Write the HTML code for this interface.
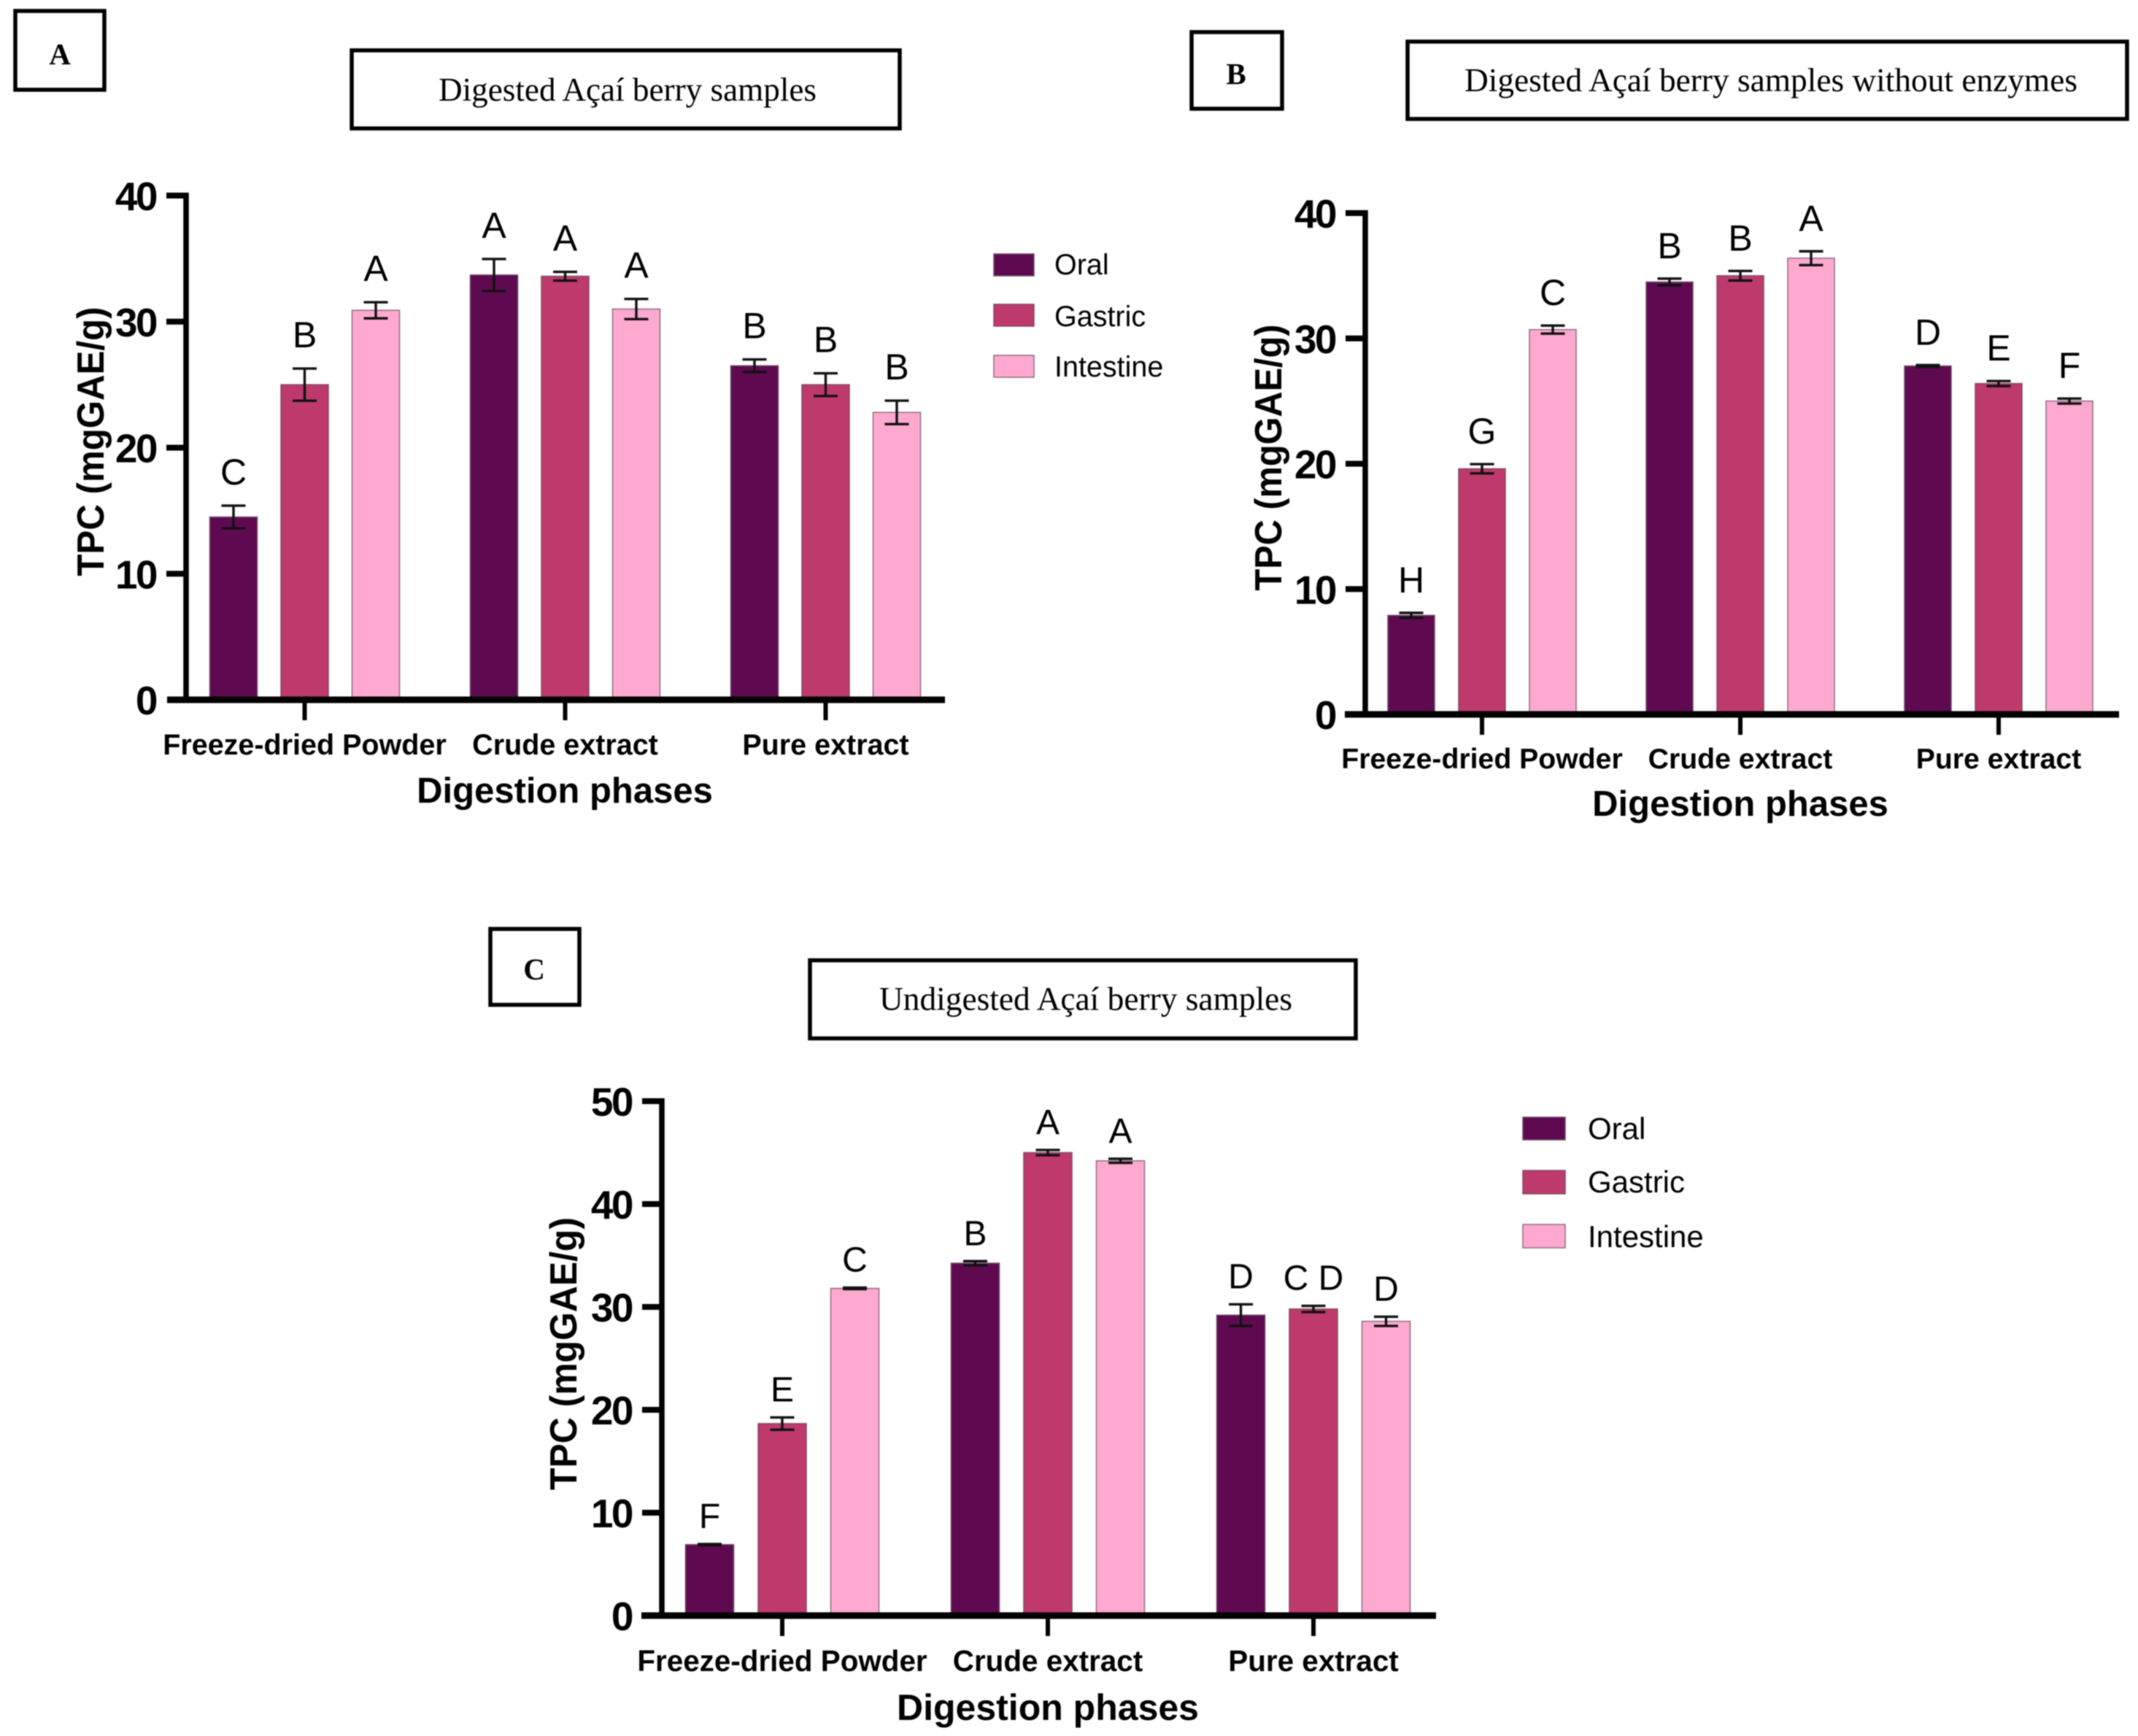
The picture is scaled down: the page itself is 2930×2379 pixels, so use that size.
<!DOCTYPE html>
<html lang="en">
<head>
<meta charset="utf-8">
<title>Açaí berry TPC charts</title>
<style>
html,body{margin:0;padding:0;background:#fff;}
svg{display:block;filter:blur(0.8px);}
text{fill:#000;}
.sans{font-family:"Liberation Sans",sans-serif;}
.serif{font-family:"Liberation Serif",serif;}
.bold{font-weight:700;}
.frame{fill:#fff;stroke:#000;stroke-width:5.5;}
</style>
</head>
<body>
<svg id="figure" xmlns="http://www.w3.org/2000/svg" width="2930" height="2379" viewBox="0 0 2930 2379">
  <rect x="0" y="0" width="2930" height="2379" fill="#fff"/>

  <g>
    <rect class="frame" x="21" y="15" width="122" height="108"/>
    <text class="serif bold" x="82" y="88" font-size="41" text-anchor="middle">A</text>
    <rect class="frame" x="482" y="69" width="751" height="107"/>
    <text class="serif" x="860" y="138" font-size="45" text-anchor="middle" textLength="518" lengthAdjust="spacingAndGlyphs">Digested Açaí berry samples</text>
  </g>
  <g>
    <rect class="frame" x="1633" y="44" width="124" height="105"/>
    <text class="serif bold" x="1694" y="115" font-size="41" text-anchor="middle">B</text>
    <rect class="frame" x="1929" y="57" width="986" height="106"/>
    <text class="serif" x="2427" y="125" font-size="45" text-anchor="middle" textLength="840" lengthAdjust="spacingAndGlyphs">Digested Açaí berry samples without enzymes</text>
  </g>
  <g>
    <rect class="frame" x="672" y="1273" width="122" height="104"/>
    <text class="serif bold" x="732" y="1342" font-size="41" text-anchor="middle">C</text>
    <rect class="frame" x="1110" y="1316" width="748" height="107"/>
    <text class="serif" x="1488" y="1384" font-size="45" text-anchor="middle" textLength="566" lengthAdjust="spacingAndGlyphs">Undigested Açaí berry samples</text>
  </g>

  <g id="chart-a">
    <text class="sans bold" transform="translate(142,605) rotate(-90)" font-size="52" text-anchor="middle" textLength="369" lengthAdjust="spacingAndGlyphs">TPC (mgGAE/g)</text>
    <text class="sans bold" x="774" y="1100" font-size="49" text-anchor="middle">Digestion phases</text>
  </g>
  <g id="chart-b">
    <text class="sans bold" transform="translate(1756,627) rotate(-90)" font-size="52" text-anchor="middle" textLength="365" lengthAdjust="spacingAndGlyphs">TPC (mgGAE/g)</text>
    <text class="sans bold" x="2385" y="1118" font-size="49" text-anchor="middle">Digestion phases</text>
  </g>
  <g id="chart-c">
    <text class="sans bold" transform="translate(790,1855) rotate(-90)" font-size="52" text-anchor="middle" textLength="374" lengthAdjust="spacingAndGlyphs">TPC (mgGAE/g)</text>
    <text class="sans bold" x="1436" y="2357" font-size="50" text-anchor="middle">Digestion phases</text>
  </g>

  <g>
    <rect x="1362" y="348" width="55" height="30" fill="#5f0a50" stroke="#6d4a66" stroke-width="1.5"/>
    <text class="sans" x="1445" y="376" font-size="39.5">Oral</text>
    <rect x="1362" y="417" width="55" height="30" fill="#bf3a6c" stroke="#7d4a66" stroke-width="1.5"/>
    <text class="sans" x="1445" y="447" font-size="39.5">Gastric</text>
    <rect x="1362" y="487" width="55" height="30" fill="#ffa9d0" stroke="#8d6a80" stroke-width="1.5"/>
    <text class="sans" x="1445" y="516" font-size="39.5">Intestine</text>
  </g>
  <g>
    <rect x="2087" y="1531" width="58" height="31" fill="#5f0a50" stroke="#6d4a66" stroke-width="1.5"/>
    <text class="sans" x="2176" y="1561" font-size="42">Oral</text>
    <rect x="2087" y="1604" width="58" height="32" fill="#bf3a6c" stroke="#7d4a66" stroke-width="1.5"/>
    <text class="sans" x="2176" y="1634" font-size="42">Gastric</text>
    <rect x="2087" y="1678" width="58" height="32" fill="#ffa9d0" stroke="#8d6a80" stroke-width="1.5"/>
    <text class="sans" x="2176" y="1709" font-size="42">Intestine</text>
  </g>
</svg>

<script>
// ---- Data ----
var categories = ['Freeze-dried Powder', 'Crude extract', 'Pure extract'];
var seriesNames = ['oral', 'gastric', 'intestine'];

var ticksA = [0, 10, 20, 30, 40];
var oralA = [14.5, 33.7, 26.5];
var gastricA = [25.0, 33.6, 25.0];
var intestineA = [30.9, 31.0, 22.8];
var oralErrA = [0.9, 1.27, 0.5];
var gastricErrA = [1.28, 0.35, 0.9];
var intestineErrA = [0.64, 0.8, 0.93];
var oralLetterA = ['C', 'A', 'B'];
var gastricLetterA = ['B', 'A', 'B'];
var intestineLetterA = ['A', 'A', 'B'];

var ticksB = [0, 10, 20, 30, 40];
var oralB = [7.9, 34.5, 27.8];
var gastricB = [19.6, 35.0, 26.4];
var intestineB = [30.7, 36.4, 25.0];
var oralErrB = [0.2, 0.27, 0.07];
var gastricErrB = [0.37, 0.38, 0.2];
var intestineErrB = [0.32, 0.55, 0.2];
var oralLetterB = ['H', 'B', 'D'];
var gastricLetterB = ['G', 'B', 'E'];
var intestineLetterB = ['C', 'A', 'F'];

var ticksC = [0, 10, 20, 30, 40, 50];
var oralC = [6.9, 34.25, 29.2];
var gastricC = [18.66, 45.0, 29.8];
var intestineC = [31.8, 44.2, 28.6];
var oralErrC = [0.05, 0.2, 1.05];
var gastricErrC = [0.6, 0.25, 0.3];
var intestineErrC = [0.07, 0.2, 0.45];
var oralLetterC = ['F', 'B', 'D'];
var gastricLetterC = ['E', 'A', 'C D'];
var intestineLetterC = ['C', 'A', 'D'];

// ---- Rendering ----
var NS = 'http://www.w3.org/2000/svg';
var fills = ['#5f0a50', '#bf3a6c', '#ffa9d0'];
var strokes = ['#6d4a66', '#7d4a66', '#8d6a80'];

function make(parent, tag, attrs, text) {
  var el = document.createElementNS(NS, tag);
  for (var k in attrs) { el.setAttribute(k, attrs[k]); }
  if (text !== undefined) { el.textContent = text; }
  parent.appendChild(el);
  return el;
}

function drawChart(cfg) {
  var root = document.getElementById(cfg.id);
  var unit = (cfg.y0 - cfg.yTop) / cfg.ticks[cfg.ticks.length - 1];
  function yScale(v) { return cfg.y0 - v * unit; }
  function xScale(g, s) { return cfg.tick0 + g * cfg.groupStep + (s - 1) * cfg.barStep; }

  for (var s = 0; s < cfg.values.length; s++) {
    for (var g = 0; g < categories.length; g++) {
      var v = cfg.values[s][g];
      var e = cfg.errors[s][g];
      var cx = xScale(g, s);
      var top = yScale(v);
      var key = cfg.key + '-' + seriesNames[s] + '-' + (g + 1);

      var bar = make(root, 'rect', {x: cx - cfg.barW / 2, y: top, width: cfg.barW, height: cfg.y0 - top, fill: fills[s], stroke: strokes[s], 'stroke-width': 1.5});
      
      

      var errTop = yScale(v + e);
      var errBottom = yScale(v - e);
      var err = make(root, 'path', {d: 'M' + (cx - 16.5) + ' ' + errTop + 'H' + (cx + 16.5) + 'M' + cx + ' ' + errTop + 'V' + errBottom + 'M' + (cx - 16.5) + ' ' + errBottom + 'H' + (cx + 16.5), fill: 'none', stroke: '#111', 'stroke-width': 3.4});
      
      

      var letter = make(root, 'text', {x: cx, y: errTop - cfg.letterGap, 'font-size': cfg.letterSize, 'text-anchor': 'middle', 'class': 'sans'}, cfg.letters[s][g]);
      
      
    }
  }

  var yAxis = make(root, 'line', {x1: cfg.axisX, x2: cfg.axisX, y1: cfg.yTop - 4, y2: cfg.y0, stroke: '#000', 'stroke-width': 7.5});
  
  

  var xAxis = make(root, 'line', {x1: cfg.xStart, x2: cfg.xEnd, y1: cfg.y0, y2: cfg.y0, stroke: '#000', 'stroke-width': 9});
  
  

  cfg.ticks.forEach(function (t) {
    var y = yScale(t);
    if (t !== 0) {
      var mark = make(root, 'line', {x1: cfg.axisX - 27, x2: cfg.axisX, y1: y, y2: y, stroke: '#000', 'stroke-width': 8});
      
      
    }
    var label = make(root, 'text', {x: cfg.axisX - 41, y: y + 20, 'font-size': 55, 'font-weight': 700, 'text-anchor': 'end', 'letter-spacing': -2.5, 'class': 'sans'}, String(t));
    
    
  });

  categories.forEach(function (c, g) {
    var x = xScale(g, 1);
    var mark = make(root, 'line', {x1: x, x2: x, y1: cfg.y0, y2: cfg.y0 + 28, stroke: '#000', 'stroke-width': 6});
    
    
    var label = make(root, 'text', {x: x, y: cfg.y0 + cfg.catOffset, 'font-size': cfg.catSize, 'font-weight': 700, 'text-anchor': 'middle', 'class': 'sans'}, c);
    
    
  });
}

drawChart({
  id: 'chart-a', key: 'chart-a',
  ticks: ticksA,
  values: [oralA, gastricA, intestineA],
  errors: [oralErrA, gastricErrA, intestineErrA],
  letters: [oralLetterA, gastricLetterA, intestineLetterA],
  y0: 959, yTop: 268, axisX: 255, xStart: 229, xEnd: 1295,
  tick0: 417.5, groupStep: 357, barStep: 97.5, barW: 65,
  letterGap: 29, letterSize: 50, catOffset: 75, catSize: 39.5
});
drawChart({
  id: 'chart-b', key: 'chart-b',
  ticks: ticksB,
  values: [oralB, gastricB, intestineB],
  errors: [oralErrB, gastricErrB, intestineErrB],
  letters: [oralLetterB, gastricLetterB, intestineLetterB],
  y0: 979, yTop: 292, axisX: 1871, xStart: 1843, xEnd: 2904,
  tick0: 2031, groupStep: 354, barStep: 97, barW: 64,
  letterGap: 28, letterSize: 50, catOffset: 74, catSize: 39.2
});
drawChart({
  id: 'chart-c', key: 'chart-c',
  ticks: ticksC,
  values: [oralC, gastricC, intestineC],
  errors: [oralErrC, gastricErrC, intestineErrC],
  letters: [oralLetterC, gastricLetterC, intestineLetterC],
  y0: 2214, yTop: 1509, axisX: 907, xStart: 879, xEnd: 1968,
  tick0: 1072, groupStep: 364, barStep: 99.5, barW: 66,
  letterGap: 22, letterSize: 48, catOffset: 76, catSize: 40.4
});
</script>
</body>
</html>
